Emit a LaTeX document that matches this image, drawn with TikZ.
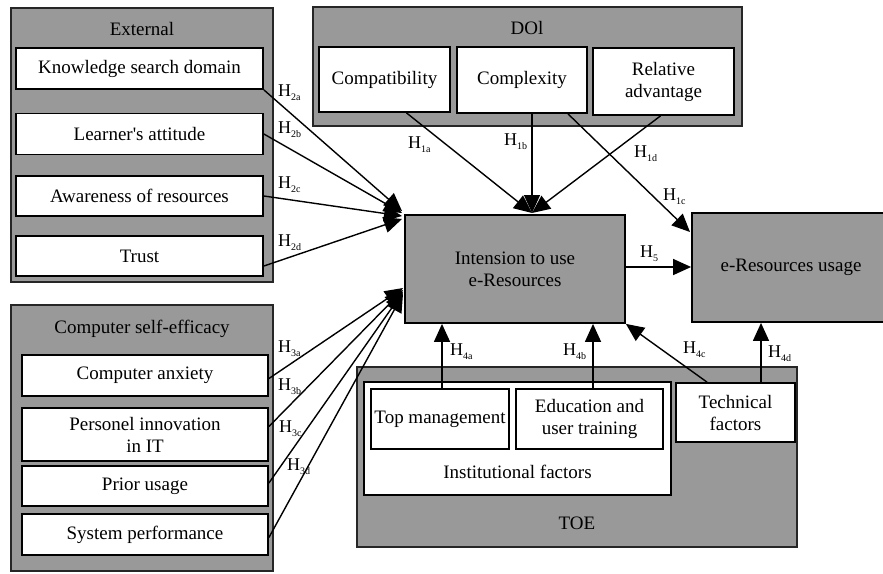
\documentclass[tikz,border=0pt]{standalone}
\usepackage{fontspec}
\setmainfont{Liberation Serif}
\usetikzlibrary{arrows.meta,calc}
\definecolor{boxgray}{RGB}{153,153,153}
\newcommand\hyp[1]{H\raisebox{-4pt}{\fontsize{10}{10}\selectfont #1}}
\begin{document}
\begin{tikzpicture}[x=1pt,y=-1pt,
  font=\fontsize{19}{22}\selectfont,
  grp/.style={draw=black!85, fill=boxgray, line width=1.6pt, inner sep=0pt},
  wbox/.style={draw=black, fill=white, line width=1.8pt, align=center, inner sep=0pt},
  conn/.style={line width=1.4pt, -{Triangle[length=18pt,width=16pt]}},
  hlab/.style={anchor=base west, inner sep=0pt, font=\fontsize{18}{18}\selectfont}]
\useasboundingbox (0,0) rectangle (883,573);

% groups
\node[grp, minimum width=262, minimum height=274] (ext) at (142,145) {};
\node (extT) at (142,29) {External};
\node[grp, minimum width=429, minimum height=119] (doi) at (527.5,66.5) {};
\node (doiT) at (527,28) {DOl};
\node[grp, minimum width=262, minimum height=266] (cse) at (142,438) {};
\node (cseT) at (142,329) {Computer self-efficacy};
\node[grp, minimum width=440, minimum height=180] (toe) at (577,457) {};
\node (toeT) at (577,523) {TOE};

% External items
\node[wbox, minimum width=247, minimum height=41] (know) at (139.5,68.5) {Knowledge search domain};
\node[wbox, minimum width=247, minimum height=41] (learn) at (139.5,134) {Learner\textquotesingle s attitude};
\node[wbox, minimum width=247, minimum height=40] (aware) at (139.5,196) {Awareness of resources};
\node[wbox, minimum width=247, minimum height=40] (trust) at (139.5,256) {Trust};

% DOI items
\node[wbox, minimum width=131, minimum height=65] (compat) at (384.5,79.5) {Compatibility};
\node[wbox, minimum width=130, minimum height=66] (complex) at (522,80) {Complexity};
\node[wbox, minimum width=141, minimum height=67] (relad) at (663.5,81.5) {Relative\\advantage};

% CSE items
\node[wbox, minimum width=246, minimum height=41] (anx) at (145,375.5) {Computer anxiety};
\node[wbox, minimum width=246, minimum height=53] (pers) at (145,434.5) {Personel innovation\\in IT};
\node[wbox, minimum width=246, minimum height=40] (prior) at (145,486) {Prior usage};
\node[wbox, minimum width=246, minimum height=41] (sysp) at (145,534.5) {System performance};

% TOE items
\node[wbox, minimum width=307, minimum height=113] (inst) at (517.5,438.5) {};
\node (instT) at (517.5,472) {Institutional factors};
\node[wbox, minimum width=138, minimum height=60] (topm) at (440,419) {Top management};
\node[wbox, minimum width=147, minimum height=60] (edu) at (589.5,419) {Education and\\user training};
\node[wbox, minimum width=119, minimum height=59] (tech) at (735.5,412.5) {Technical\\factors};

% central
\node[grp, draw=black, line width=1.8pt, minimum width=220, minimum height=108, align=center] (int) at (515,269) {Intension to use\\e-Resources};
\node[grp, draw=black, line width=1.8pt, minimum width=198, minimum height=109] (eres) at (791,267.5) {e-Resources usage};

% target coordinates
\coordinate (t2a) at (402,211);
\coordinate (t2b) at (402,213);
\coordinate (t2c) at (402,216);
\coordinate (t2d) at (402,219);
\coordinate (t3a) at (403,288);
\coordinate (t3b) at (403,290);
\coordinate (t3c) at (403,292);
\coordinate (t3d) at (403,294);
\coordinate (t1) at (532,213);
\coordinate (t1c) at (690,232);
\coordinate (s4a) at ($(topm.north)+(2,0)$);
\coordinate (e4a) at (s4a |- int.south);
\coordinate (s4b) at ($(edu.north)+(3.5,0)$);
\coordinate (e4b) at (s4b |- int.south);
\coordinate (s4c) at ($(tech.north)+(-28.5,0)$);
\coordinate (s4d) at ($(tech.north)+(25.5,0)$);
\coordinate (e4d) at (s4d |- eres.south);
\coordinate (s5) at (int.east |- 0,267);
\coordinate (e5) at (eres.west |- 0,267);

% H2
\draw[conn] (know.south east) -- (t2a);
\draw[conn] (learn.east) -- (t2b);
\draw[conn] (aware.east) -- (t2c);
\draw[conn] ($(trust.east)+(0,10)$) -- (t2d);
% H3
\draw[conn] ($(anx.east)+(0,3)$) -- (t3a);
\draw[conn] ($(pers.east)+(0,-8)$) -- (t3b);
\draw[conn] ($(prior.east)+(0,-3)$) -- (t3c);
\draw[conn] ($(sysp.east)+(0,3)$) -- (t3d);
% H1
\draw[conn] ($(compat.south)+(22,0)$) -- (t1);
\draw[conn] ($(complex.south)+(10,0)$) -- (t1);
\draw[conn] ($(relad.south)+(-3,0)$) -- (t1);
\draw[conn] ($(complex.south)+(46,0)$) -- (t1c);
% H5
\draw[conn] (s5) -- (e5);
% H4
\draw[conn] (s4a) -- (e4a);
\draw[conn] (s4b) -- (e4b);
\draw[conn] (s4c) -- (int.south east);
\draw[conn] (s4d) -- (e4d);

% labels
\node[hlab] (l2a) at (278,96.5) {\hyp{2a}};
\node[hlab] (l2b) at (278,133.5) {\hyp{2b}};
\node[hlab] (l2c) at (278,188.5) {\hyp{2c}};
\node[hlab] (l2d) at (278,246.5) {\hyp{2d}};
\node[hlab] (l3a) at (278,352.5) {\hyp{3a}};
\node[hlab] (l3b) at (278,390.5) {\hyp{3b}};
\node[hlab] (l3c) at (279,432.5) {\hyp{3c}};
\node[hlab] (l3d) at (287,470.5) {\hyp{3d}};
\node[hlab] (l1a) at (408,148.5) {\hyp{1a}};
\node[hlab] (l1b) at (504,145.5) {\hyp{1b}};
\node[hlab] (l1d) at (634,157.5) {\hyp{1d}};
\node[hlab] (l1c) at (663,200.5) {\hyp{1c}};
\node[hlab] (l5) at (640,257.5) {\hyp{5}};
\node[hlab] (l4a) at (450,355.5) {\hyp{4a}};
\node[hlab] (l4b) at (563,355.5) {\hyp{4b}};
\node[hlab] (l4c) at (683,353.5) {\hyp{4c}};
\node[hlab] (l4d) at (768,357.5) {\hyp{4d}};
\end{tikzpicture}
\end{document}
